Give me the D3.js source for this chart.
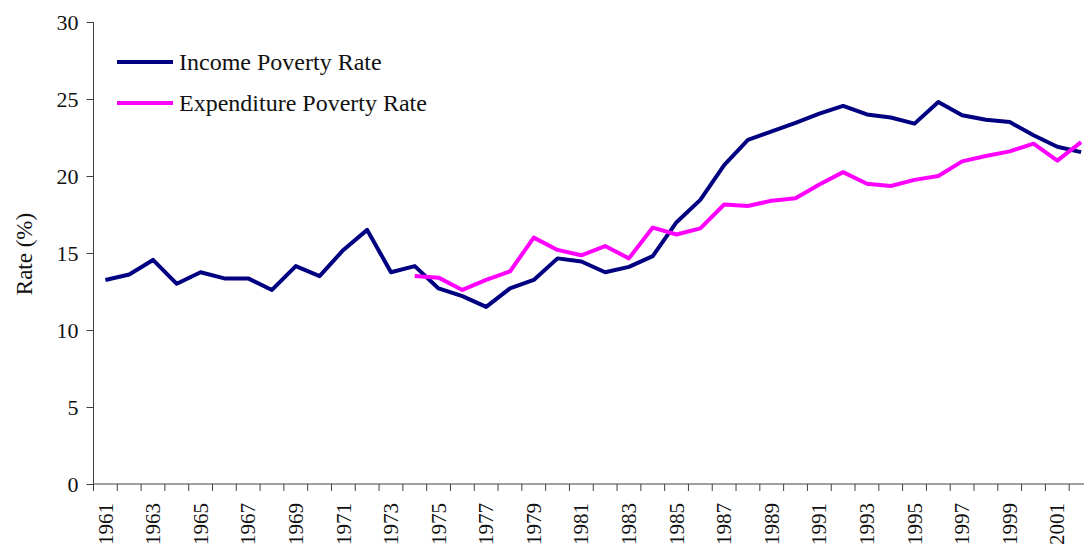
<!DOCTYPE html>
<html>
<head>
<meta charset="utf-8">
<script src="https://cdn.jsdelivr.net/npm/d3@7"></script>
<style>
  body { margin: 0; background: #fff; }
</style>
</head>
<body>
<svg id="chart"></svg>
<script>
const years = d3.range(1961, 2003);

const incomeRate = [
  13.25, 13.6, 14.55, 13.0, 13.75, 13.35, 13.35, 12.6, 14.15, 13.5,
  15.2, 16.5, 13.75, 14.15, 12.7, 12.2, 11.5, 12.7, 13.25, 14.65,
  14.45, 13.75, 14.1, 14.8, 17.0, 18.45, 20.7, 22.35, 22.9, 23.45,
  24.05, 24.55, 24.0, 23.8, 23.4, 24.8, 23.95, 23.65, 23.5, 22.65,
  21.9, 21.55
];

// expenditure series starts in 1974
const expenditureYears = d3.range(1974, 2003);
const expenditureRate = [
  13.5, 13.4, 12.6, 13.25, 13.8, 16.0, 15.2, 14.85, 15.45, 14.65,
  16.65, 16.2, 16.6, 18.15, 18.05, 18.4, 18.55, 19.45, 20.25, 19.5,
  19.35, 19.75, 20.0, 20.95, 21.3, 21.6, 22.1, 21.0, 22.2
];

const yTicks = [0, 5, 10, 15, 20, 25, 30];

const series = [
  {name: 'Income Poverty Rate', color: '#000080',
   values: years.map((y, i) => ({year: y, value: incomeRate[i]}))},
  {name: 'Expenditure Poverty Rate', color: '#ff00ff',
   values: expenditureYears.map((y, i) => ({year: y, value: expenditureRate[i]}))}
];

const FONT = '"Liberation Serif", "Times New Roman", Times, serif';

const config = {
  width: 1084,
  height: 550,
  margin: {top: 22, right: -9, bottom: 66, left: 93.5}
};

const width = config.width - config.margin.left - config.margin.right;
const height = config.height - config.margin.top - config.margin.bottom;

const svg = d3.select('#chart')
  .attr('width', config.width)
  .attr('height', config.height);

const chart = svg.append('g')
  .attr('transform', `translate(${config.margin.left}, ${config.margin.top})`);

const xScale = d3.scaleBand()
  .domain(years)
  .range([0, width])
  .padding(0);

const yScale = d3.scaleLinear()
  .domain([0, 30])
  .range([height, 0]);

// Y axis
const yAxis = d3.axisLeft(yScale)
  .tickValues(yTicks)
  .tickSize(7)
  .tickPadding(8);

const yAxisGroup = chart.append('g')
  .attr('class', 'axis y-axis')
  .call(yAxis);
yAxisGroup.select('.domain').attr('stroke', '#404040').attr('d', `M0,0V${height}`);
yAxisGroup.selectAll('.tick line').attr('stroke', '#404040');
yAxisGroup.selectAll('.tick text')
  .style('font-size', '22px');

// X axis: ticks at band boundaries, labels every other year
const xAxisGroup = chart.append('g')
  .attr('class', 'axis x-axis')
  .attr('transform', `translate(0, ${height})`);

xAxisGroup.append('line')
  .attr('x1', 0).attr('x2', width)
  .attr('stroke', '#404040');

xAxisGroup.selectAll('.xtick')
  .data(years.concat([2003]))
  .enter()
  .append('line')
    .attr('class', 'xtick')
    .attr('x1', d => d === 2003 ? width : xScale(d))
    .attr('x2', d => d === 2003 ? width : xScale(d))
    .attr('y1', 0)
    .attr('y2', 7)
    .attr('stroke', '#404040');

xAxisGroup.selectAll('.xlabel')
  .data(years.filter(d => d % 2 === 1))
  .enter()
  .append('text')
    .attr('class', 'xlabel')
    .attr('transform', d => `translate(${xScale(d) + xScale.bandwidth() / 2}, 19) rotate(-90)`)
    .attr('text-anchor', 'end')
    .attr('dy', '0.34em')
    .style('font-size', '21px')
    .text(d => d);

// Y axis title
svg.append('text')
  .attr('transform', 'translate(24, 254) rotate(-90)')
  .attr('text-anchor', 'middle')
  .attr('dy', '0.34em')
  .style('font-size', '23px')
  .text('Rate (%)');

// Lines
const line = d3.line()
  .x(d => xScale(d.year) + xScale.bandwidth() / 2)
  .y(d => yScale(d.value));

chart.selectAll('.series')
  .data(series)
  .enter()
  .append('path')
    .attr('class', 'series')
    .attr('d', d => line(d.values))
    .attr('fill', 'none')
    .attr('stroke', d => d.color)
    .attr('stroke-width', 4)
    .attr('stroke-linejoin', 'round');

// Legend
const legend = svg.append('g')
  .attr('transform', 'translate(117, 62)');

const legendItems = legend.selectAll('.legend-item')
  .data(series)
  .enter()
  .append('g')
    .attr('class', 'legend-item')
    .attr('transform', (d, i) => `translate(0, ${i * 41})`);

legendItems.append('line')
  .attr('x1', 0).attr('x2', 56)
  .attr('stroke', d => d.color)
  .attr('stroke-width', 4);

legendItems.append('text')
  .attr('x', 62)
  .attr('dy', '0.34em')
  .style('font-size', '24px')
  .text(d => d.name);

// same serif face on every label
svg.selectAll('text')
  .style('font-family', FONT)
  .attr('fill', '#111');
</script>
</body>
</html>
